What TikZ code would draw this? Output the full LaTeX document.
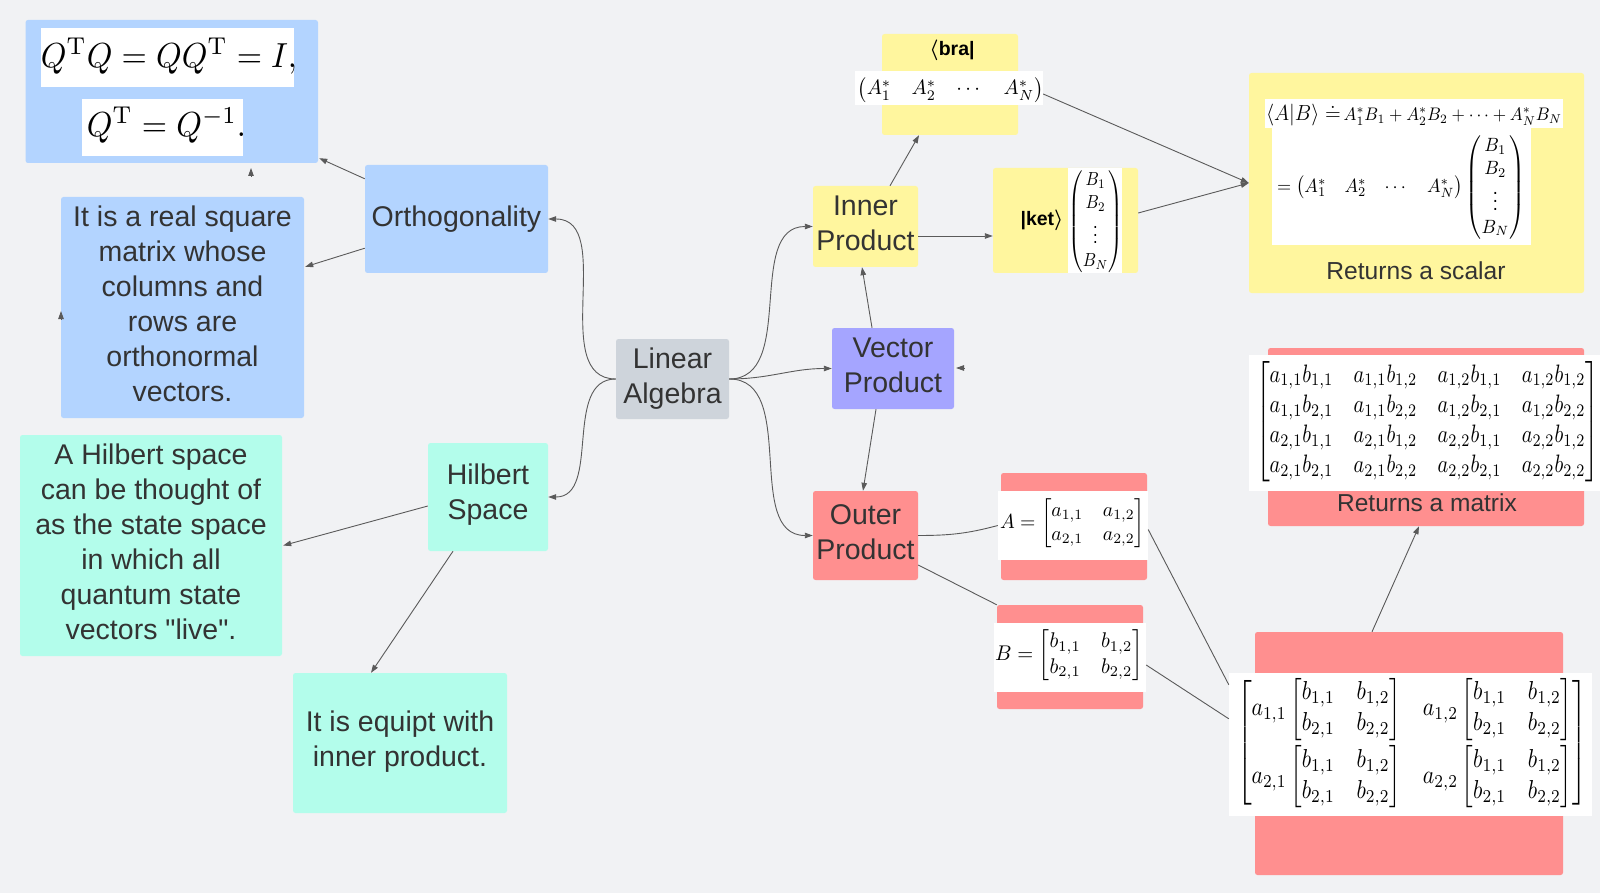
\documentclass[tikz,border=0pt]{standalone}
\usepackage[no-math]{fontspec}
\setmainfont{Liberation Sans}
\usepackage{amsmath,amssymb}
\usepackage{graphicx}
\usetikzlibrary{arrows.meta}
\definecolor{bg}{HTML}{F1F2F4}
\definecolor{cblue}{HTML}{B3D4FF}
\definecolor{cmint}{HTML}{B3FDEB}
\definecolor{cgray}{HTML}{CED4DB}
\definecolor{cpurple}{HTML}{A5A5FF}
\definecolor{cred}{HTML}{FF8F8F}
\definecolor{cyellow}{HTML}{FFF69E}
\definecolor{txt}{HTML}{333333}
\definecolor{arrc}{HTML}{5A5A5A}
\newcommand\labfont{\fontsize{28.5}{35}\selectfont}
\newcommand\sq{\XeTeXglyph\XeTeXcharglyph"22\relax}
\newcommand\myBmat{\begin{bmatrix} b_{1,1} & b_{1,2}\\ b_{2,1} & b_{2,2}\end{bmatrix}}
\begin{document}
\begin{tikzpicture}[x=1pt,y=-1pt,
  box/.style={rectangle, rounded corners=2.5pt, inner sep=0pt},
  lab/.style={inner sep=0pt, align=center, text=txt, font=\labfont},
  wbox/.style={rectangle, fill=white, inner sep=0pt, draw=none},
  mth/.style={inner sep=0pt, text=black},
  arr/.style={draw=arrc, line width=0.9pt, -{Triangle[length=8pt,width=5.5pt]}},
  ln/.style={draw=arrc, line width=0.9pt}]
\fill[bg] (0,0) rectangle (1600,893);
\useasboundingbox (0,0) rectangle (1600,893);

% ---------- left side ----------
\node[box, fill=cblue, minimum width=292.5pt, minimum height=143pt] (fbox) at (171.75,91.5) {};
\node[wbox, minimum width=253pt, minimum height=59pt] (fw1) at (167.5,57.5) {};
\node[wbox, minimum width=161pt, minimum height=57pt] (fw2) at (162.5,127.5) {};
\node[mth] (f1) at (169,56) {\resizebox*{256pt}{36pt}{$Q^{\mathrm{T}}Q = QQ^{\mathrm{T}} = I,$}};
\node[mth] (f2) at (166.5,125) {\resizebox*{159pt}{36pt}{$Q^{\mathrm{T}} = Q^{-1}.$}};

\node[box, fill=cblue, minimum width=243pt, minimum height=221pt] (otext) at (182.5,307.5) {};
\node[lab] (otextl) at (182.5,303.5) {It is a real square\\matrix whose\\columns and\\rows are\\orthonormal\\vectors.};
\node[box, fill=cblue, minimum width=183pt, minimum height=108pt] (ortho) at (456.5,219) {};
\node[lab] (ortlab) at (456.5,219) {Orthogonality};

\node[box, fill=cmint, minimum width=262pt, minimum height=221pt] (hdesc) at (151,545.5) {};
\node[lab] (hdescl) at (151,541.5) {A Hilbert space\\can be thought of\\as the state space\\in which all\\quantum state\\vectors \sq live\sq.};
\node[box, fill=cmint, minimum width=120pt, minimum height=108pt] (hilbert) at (488,497) {};
\node[lab] (hillab) at (488,495) {Hilbert\\Space};
\node[box, fill=cmint, minimum width=214pt, minimum height=140pt] (equipt) at (400,743) {};
\node[lab] (eqlab) at (400,742) {It is equipt with\\inner product.};

\node[box, fill=cgray, minimum width=113pt, minimum height=80pt] (la) at (672.5,379) {};
\node[lab] (lalab) at (672.5,379) {Linear\\Algebra};
\node[box, fill=cpurple, minimum width=122pt, minimum height=81pt] (vp) at (893,368.5) {};
\node[lab] (vplab) at (893,365.5) {Vector\\Product};
\node[box, fill=cred, minimum width=105pt, minimum height=89pt] (outer) at (865.5,535.5) {};
\node[lab] (oplab) at (865.5,532.5) {Outer\\Product};
\node[box, fill=cyellow, minimum width=105pt, minimum height=81pt] (inner) at (865.5,226.5) {};
\node[lab] (iplab) at (865.5,223.5) {Inner\\Product};

% ---------- inner product side ----------
\node[box, fill=cyellow, minimum width=136pt, minimum height=101pt] (bra) at (950,84.5) {};
\node[mth, font=\fontsize{19.5}{20}\selectfont\bfseries] (bralab) at (952,50) {$\boldsymbol{\langle}$bra|};
\node[wbox, minimum width=188pt, minimum height=34pt] (brarow) at (949,88) {};
\node[mth] (bramath) at (950.5,90) {\resizebox*{186pt}{25pt}{$\begin{pmatrix}A_1^* & A_2^* & \cdots & A_N^*\end{pmatrix}$}};

\node[box, fill=cyellow, minimum width=145pt, minimum height=105pt] (ket) at (1065.5,220.5) {};
\node[wbox, minimum width=54pt, minimum height=105pt] (ketw) at (1095,220.5) {};
\node[mth] (ketmath) at (1095.5,221.5) {\resizebox*{54pt}{103pt}{$\begin{pmatrix}B_1\\ B_2\\ \vdots\\ B_N\end{pmatrix}$}};
\node[mth, font=\fontsize{19.5}{20}\selectfont\bfseries] (ketlab) at (1042,220) {|ket$\boldsymbol{\rangle}$};

\node[box, fill=cyellow, minimum width=335pt, minimum height=220pt] (result) at (1416.5,183) {};
\node[wbox, minimum width=298pt, minimum height=29pt] (rw1) at (1414,113.5) {};
\node[wbox, minimum width=259pt, minimum height=117pt] (rw2) at (1401.5,186.5) {};
\node[mth] (r1) at (1414,115) {\resizebox*{296pt}{22pt}{\mbox{\large$\langle A|B\rangle \doteq$}\,$A_1^*B_1 + A_2^*B_2 + \cdots + A_N^*B_N$}};
\node[mth] (r2) at (1401,187.5) {\resizebox*{248pt}{105pt}{$=\begin{pmatrix}A_1^* & A_2^* & \cdots & A_N^*\end{pmatrix}\begin{pmatrix}B_1\\ B_2\\ \vdots\\ B_N\end{pmatrix}$}};
\node[mth, text=txt, font=\fontsize{24.6}{26}\selectfont] (scal) at (1416,271) {Returns a scalar};

% ---------- outer product side ----------
\node[box, fill=cred, minimum width=146pt, minimum height=107pt] (ared) at (1074,526.5) {};
\node[wbox, minimum width=150pt, minimum height=69pt] (aw) at (1073,525.5) {};
\node[mth] (amath) at (1072.5,523.5) {\resizebox*{145pt}{49pt}{$A=\begin{bmatrix} a_{1,1} & a_{1,2}\\ a_{2,1} & a_{2,2}\end{bmatrix}$}};

\node[box, fill=cred, minimum width=146pt, minimum height=104pt] (bred) at (1070,657) {};
\node[wbox, minimum width=152pt, minimum height=69pt] (bw) at (1070,657.5) {};
\node[mth] (bmath) at (1069,655.5) {\resizebox*{148pt}{51pt}{$B=\myBmat$}};

\node[box, fill=cred, minimum width=308pt, minimum height=243pt] (bigred) at (1409,753.5) {};
\node[wbox, minimum width=363pt, minimum height=143pt] (bigw) at (1410.5,744.5) {};
\node[mth] (bigmath) at (1412,743) {\resizebox*{350pt}{130pt}{$\begin{bmatrix} a_{1,1}\myBmat & a_{1,2}\myBmat\\[8pt] a_{2,1}\myBmat & a_{2,2}\myBmat\end{bmatrix}$}};

\node[box, fill=cred, minimum width=316pt, minimum height=178pt] (mred) at (1426,437) {};
\node[wbox, minimum width=351pt, minimum height=136pt] (mw) at (1424.5,423) {};
\node[mth] (mmath) at (1427.5,421.5) {\resizebox*{343pt}{121pt}{$\begin{bmatrix}
a_{1,1}b_{1,1} & a_{1,1}b_{1,2} & a_{1,2}b_{1,1} & a_{1,2}b_{1,2}\\
a_{1,1}b_{2,1} & a_{1,1}b_{2,2} & a_{1,2}b_{2,1} & a_{1,2}b_{2,2}\\
a_{2,1}b_{1,1} & a_{2,1}b_{1,2} & a_{2,2}b_{1,1} & a_{2,2}b_{1,2}\\
a_{2,1}b_{2,1} & a_{2,1}b_{2,2} & a_{2,2}b_{2,1} & a_{2,2}b_{2,2}
\end{bmatrix}$}};
\node[mth, text=txt, font=\fontsize{24.5}{26}\selectfont] (matl) at (1427,503) {Returns a matrix};

% ---------- connectors ----------
\draw[arr] (la.west) to[out=180,in=0] (ortho.east);
\draw[arr] (la.west) to[out=180,in=0] (hilbert.east);
\draw[arr] (la.east) to[out=0,in=180] (inner.west);
\draw[arr] (la.east) to[out=0,in=180] (vp.west);
\draw[arr] (la.east) to[out=0,in=180] (outer.west);

\draw[arr] ([yshift=-14pt]ortho.north west) -- ([xshift=1pt,yshift=5pt]fbox.south east);
\draw[arr] ([yshift=25pt]ortho.south west) -- ([xshift=1pt,yshift=-70pt]otext.north east);
\draw[arr] ([yshift=-9pt]hilbert.west) -- ([xshift=1pt]hdesc.east);
\draw[arr] ([xshift=-35pt]hilbert.south) -- ([xshift=-29pt]equipt.north);

\draw[arr] ([xshift=-21pt]vp.north) -- ([xshift=-3.5pt]inner.south);
\draw[arr] ([xshift=-17pt]vp.south) -- ([xshift=-2.5pt]outer.north);
\draw[arr] ([xshift=24.5pt]inner.north) -- ([xshift=-31pt]bra.south);
\draw[arr] ([yshift=-9.5pt]inner.east) -- ([yshift=-15.5pt]ket.west);
\draw[arr] ([yshift=-6pt]brarow.east) -- (result.west);
\draw[arr] ([yshift=7.5pt]ket.east) -- (result.west);

\draw[ln] (outer.east) to[out=0,in=195] (aw.west);
\draw[ln] ([yshift=-29.5pt]outer.east) -- (bred.north west);
\draw[ln] ([yshift=-4pt]aw.east) -- ([yshift=-12pt]bigw.north west);
\draw[ln] ([yshift=-7.5pt]bw.east) -- ([yshift=-46pt]bigw.north west);
\draw[arr] ([xshift=-37pt]bigred.north) -- ([xshift=-7pt]mred.south);

% stray arrow tips shown in the picture
\coordinate (s1a) at (251,176); \coordinate (s1b) at (251,168);
\coordinate (s2a) at (61,319); \coordinate (s2b) at (61,311);
\coordinate (s3a) at (964,368); \coordinate (s3b) at (956,368);
\draw[arr] (s1a) -- (s1b);
\draw[arr] (s2a) -- (s2b);
\draw[arr] (s3a) -- (s3b);
\end{tikzpicture}
\end{document}
